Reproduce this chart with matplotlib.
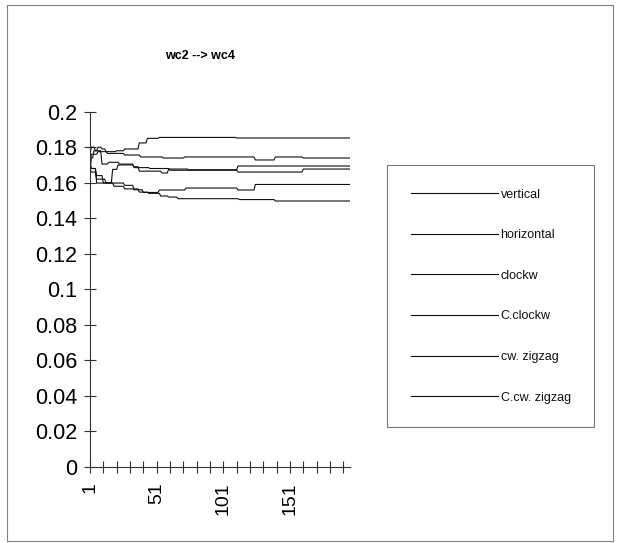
import numpy as np
import matplotlib
matplotlib.use("Agg")
import matplotlib.pyplot as plt
from matplotlib.patches import Rectangle
from matplotlib.ticker import FixedLocator, FuncFormatter

plt.rcParams['font.family'] = ['Liberation Sans', 'DejaVu Sans']

title = "wc2 --> wc4"
series_names = ["vertical", "horizontal", "clockw", "C.clockw", "cw. zigzag", "C.cw. zigzag"]
n_points = 196

# run-length encoded values (value, run length)
vertical_vals = [0.166, 0.174, 0.178, 0.180, 0.179, 0.1775, 0.1780, 0.1790, 0.1824, 0.1850, 0.1855, 0.1852]
vertical_runs = [1, 2, 3, 3, 3, 8, 6, 11, 6, 9, 58, 86]

horizontal_vals = [0.170, 0.176, 0.1775, 0.1765, 0.1756, 0.1745, 0.1739, 0.1745, 0.1728, 0.1745, 0.1739]
horizontal_runs = [1, 5, 7, 13, 12, 17, 16, 53, 15, 21, 36]

clockw_vals = [0.168, 0.166, 0.162, 0.160, 0.1675, 0.1700, 0.1690, 0.1665, 0.1655, 0.1677, 0.1673, 0.1694]
clockw_runs = [1, 4, 7, 5, 4, 12, 4, 17, 5, 15, 37, 85]

cclockw_vals = [0.176, 0.180, 0.178, 0.1705, 0.1715, 0.1705, 0.1685, 0.1680, 0.1670, 0.1670, 0.1660, 0.1677]
cclockw_runs = [1, 3, 5, 5, 8, 11, 12, 15, 14, 37, 49, 36]

cwzig_vals = [0.172, 0.168, 0.1598, 0.1585, 0.1560, 0.1545, 0.1559, 0.1570, 0.1559, 0.1590]
cwzig_runs = [1, 4, 21, 7, 7, 12, 20, 39, 13, 72]

ccwzig_vals = [0.170, 0.168, 0.164, 0.1598, 0.1580, 0.1565, 0.1547, 0.1540, 0.1525, 0.1519, 0.1510, 0.1505, 0.1497]
ccwzig_runs = [1, 4, 5, 8, 8, 11, 7, 9, 6, 7, 46, 27, 57]

y_ticks = [0, 0.02, 0.04, 0.06, 0.08, 0.1, 0.12, 0.14, 0.16, 0.18, 0.2]
x_label_ticks = [1, 51, 101, 151]

series = [
    (vertical_vals, vertical_runs),
    (horizontal_vals, horizontal_runs),
    (clockw_vals, clockw_runs),
    (cclockw_vals, cclockw_runs),
    (cwzig_vals, cwzig_runs),
    (ccwzig_vals, ccwzig_runs),
]

W, H = 618, 543
fig = plt.figure(figsize=(W / 100, H / 100), dpi=100)
fig.patch.set_facecolor('white')

# outer chart border
fig.patches.append(Rectangle((7 / W, 1 - 541 / H), 606 / W, 536 / H, transform=fig.transFigure,
                             fill=False, edgecolor='#808080', linewidth=0.8))

left, right = 90 / W, 350 / W
bottom, top = 1 - 466.7 / H, 1 - 111.7 / H
ax = fig.add_axes([left, bottom, right - left, top - bottom])

x = np.arange(1, n_points + 1)
for (vals, runs), name in zip(series, series_names):
    y = np.repeat(vals, runs)
    ax.plot(x, y, color='#111111', linewidth=0.8, label=name)

ax.set_xlim(1, n_points)
ax.set_ylim(0, 0.2)
for s in ['top', 'right']:
    ax.spines[s].set_visible(False)
for s in ['left', 'bottom']:
    ax.spines[s].set_color('#333333')
    ax.spines[s].set_linewidth(0.8)

ax.yaxis.set_major_locator(FixedLocator(y_ticks))
ax.yaxis.set_major_formatter(FuncFormatter(lambda v, p: f"{v:g}"))
ax.tick_params(axis='y', direction='inout', length=8, width=0.8, color='#333333',
               labelsize=15.5, pad=5)

ax.xaxis.set_major_locator(FixedLocator(np.arange(1, n_points + 1, 10)))
ax.xaxis.set_major_formatter(FuncFormatter(lambda v, p: f"{int(round(v))}" if int(round(v)) in x_label_ticks else ""))
ax.tick_params(axis='x', direction='inout', length=8, width=0.8, color='#333333',
               labelsize=14, pad=7, labelrotation=90)

fig.text(200 / W, 1 - 56 / H, title, ha='center', va='center', fontsize=9, fontweight='bold')

leg = ax.legend(loc='upper left', bbox_to_anchor=(387 / W, 1 - 165 / H), bbox_transform=fig.transFigure,
                frameon=True, fancybox=False, fontsize=9, handlelength=7.0, handletextpad=0.2,
                labelspacing=2.29, borderpad=1.88, borderaxespad=0)
leg.get_frame().set_edgecolor('#555555')
leg.get_frame().set_linewidth(0.8)
for t in leg.get_texts():
    t.set_color('#111111')

fig.savefig('out.png', dpi=100)
